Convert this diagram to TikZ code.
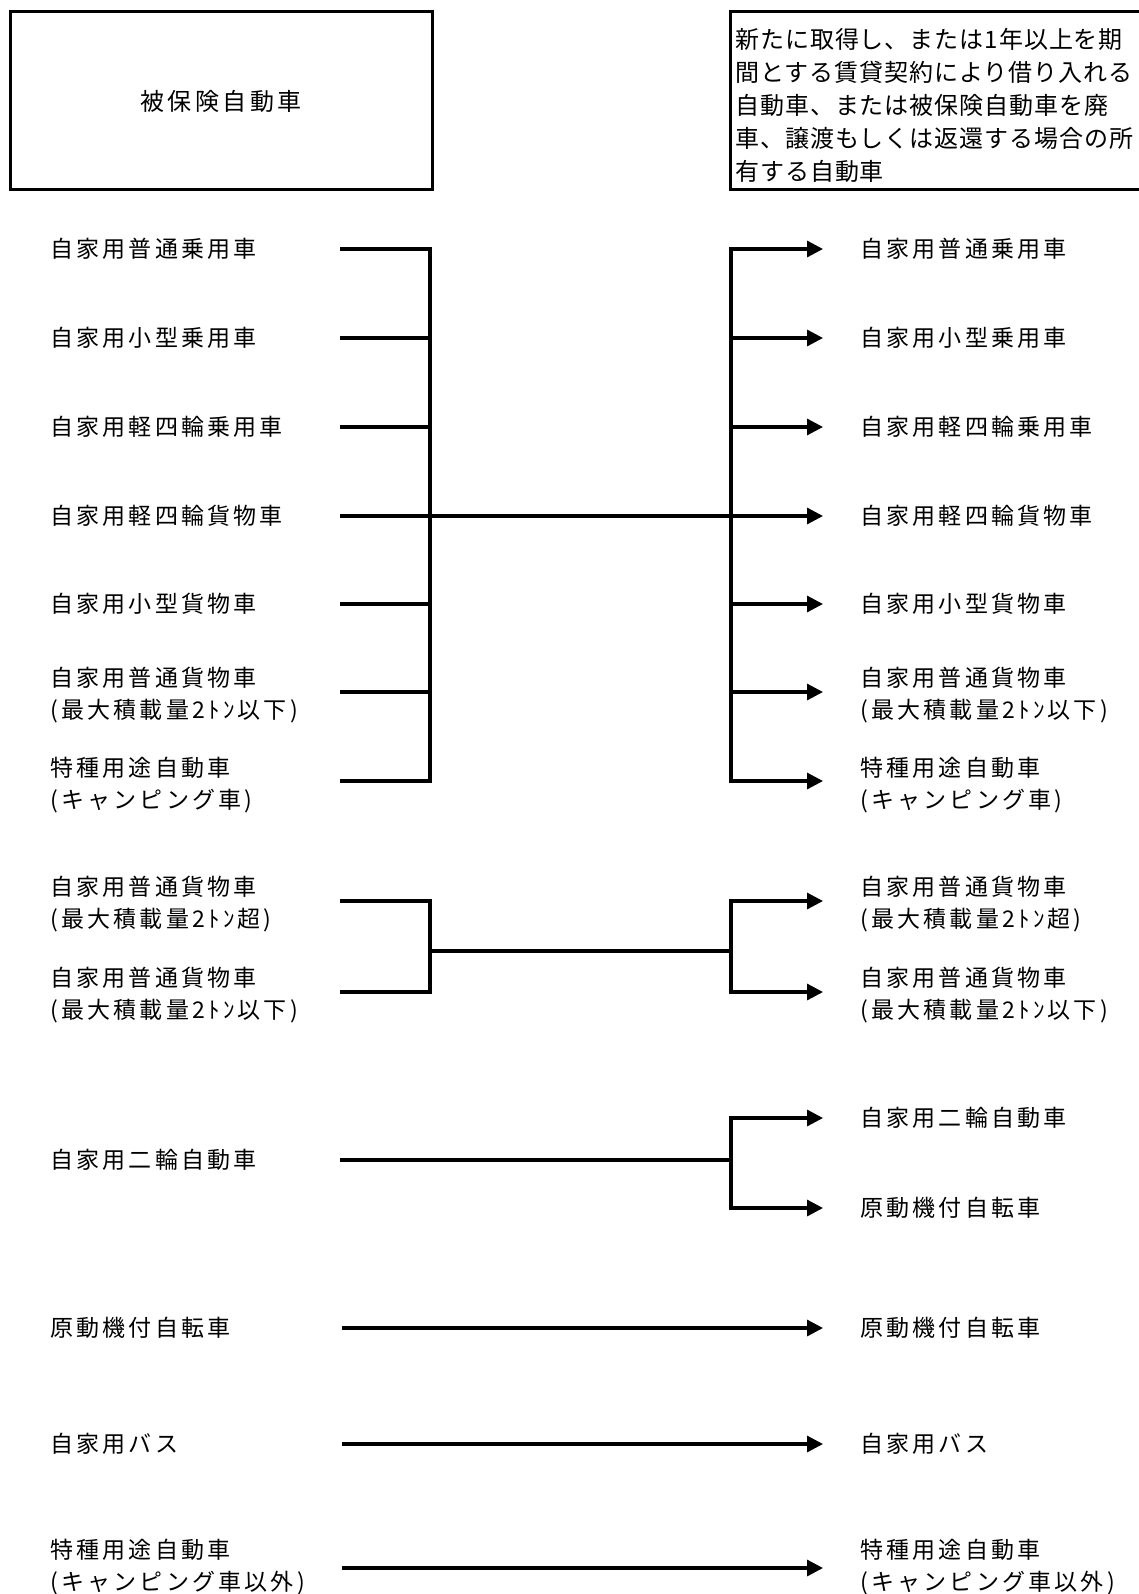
\documentclass[tikz,border=0pt]{standalone}
\usepackage{fontspec}
\usepackage{tikz}
\usetikzlibrary{arrows.meta}
\newfontfamily\jplab[LetterSpace=14]{Noto Sans CJK JP}
\newfontfamily\jpbox[LetterSpace=4]{Noto Sans CJK JP}

\tikzset{
  lab/.style={anchor=west, align=left, inner sep=0pt, font=\fontsize{23}{32}\jplab},
  conn/.style={line width=3.2pt, line cap=rect},
  arr/.style={line width=3.2pt, -{Triangle[length=16pt,width=16pt]}},
  frame/.style={draw, line width=3pt}
}

\begin{document}
\begin{tikzpicture}[x=1pt, y=-1pt]
\useasboundingbox (0,0) rectangle (1139,1594);

% top boxes
\node[frame, minimum width=422pt, minimum height=178pt, font=\fontsize{24}{34}\jplab] (insured) at (221,101) {被保険自動車};
\draw[frame] (730,12) rectangle (1160,190);
\node[anchor=north west, align=left, inner sep=0pt, font=\fontsize{24}{33}\jpbox] (newcar) at (735,28)
  {新たに取得し、または1年以上を期\\間とする賃貸契約により借り入れる\\自動車、または被保険自動車を廃\\車、譲渡もしくは返還する場合の所\\有する自動車};

% columns and rows
\coordinate (L) at (342,0);
\coordinate (J) at (430,0);
\coordinate (K) at (731,0);
\coordinate (T) at (823,0);
\coordinate (y1) at (0,249);
\coordinate (y2) at (0,338);
\coordinate (y3) at (0,427);
\coordinate (y4) at (0,516);
\coordinate (y5) at (0,604);
\coordinate (y6) at (0,692);
\coordinate (y7) at (0,781);
\coordinate (y8) at (0,901);
\coordinate (y9) at (0,992);
\coordinate (ym) at (0,951);
\coordinate (yb) at (0,1160);
\coordinate (yba) at (0,1118);
\coordinate (ybb) at (0,1208);
\coordinate (y11) at (0,1328);
\coordinate (y12) at (0,1444);
\coordinate (y13) at (0,1568);

% left labels
\node[lab] (l1) at (50,249) {自家用普通乗用車};
\node[lab] (l2) at (50,338) {自家用小型乗用車};
\node[lab] (l3) at (50,427) {自家用軽四輪乗用車};
\node[lab] (l4) at (50,516) {自家用軽四輪貨物車};
\node[lab] (l5) at (50,604) {自家用小型貨物車};
\node[lab] (l6) at (50,695) {自家用普通貨物車\\(最大積載量2ﾄﾝ以下)};
\node[lab] (l7) at (50,785) {特種用途自動車\\(キャンピング車)};
\node[lab] (l8) at (50,904) {自家用普通貨物車\\(最大積載量2ﾄﾝ超)};
\node[lab] (l9) at (50,995) {自家用普通貨物車\\(最大積載量2ﾄﾝ以下)};
\node[lab] (l10) at (50,1160) {自家用二輪自動車};
\node[lab] (l11) at (50,1328) {原動機付自転車};
\node[lab] (l12) at (50,1444) {自家用バス};
\node[lab] (l13) at (50,1567) {特種用途自動車\\(キャンピング車以外)};

% right labels
\node[lab] (r1) at (860,249) {自家用普通乗用車};
\node[lab] (r2) at (860,338) {自家用小型乗用車};
\node[lab] (r3) at (860,427) {自家用軽四輪乗用車};
\node[lab] (r4) at (860,516) {自家用軽四輪貨物車};
\node[lab] (r5) at (860,604) {自家用小型貨物車};
\node[lab] (r6) at (860,695) {自家用普通貨物車\\(最大積載量2ﾄﾝ以下)};
\node[lab] (r7) at (860,785) {特種用途自動車\\(キャンピング車)};
\node[lab] (r8) at (860,904) {自家用普通貨物車\\(最大積載量2ﾄﾝ超)};
\node[lab] (r9) at (860,995) {自家用普通貨物車\\(最大積載量2ﾄﾝ以下)};
\node[lab] (r10) at (860,1118) {自家用二輪自動車};
\node[lab] (r11) at (860,1208) {原動機付自転車};
\node[lab] (r12) at (860,1328) {原動機付自転車};
\node[lab] (r13) at (860,1444) {自家用バス};
\node[lab] (r14) at (860,1567) {特種用途自動車\\(キャンピング車以外)};

% first group
\draw[conn] (L |- y1) -- (J |- y1) -- (J |- y7) -- (L |- y7);
\draw[conn] (L |- y2) -- (J |- y2)
            (L |- y3) -- (J |- y3)
            (L |- y4) -- (K |- y4)
            (L |- y5) -- (J |- y5)
            (L |- y6) -- (J |- y6);
\draw[conn] (K |- y1) -- (K |- y7);
\draw[arr] (K |- y1) -- (T |- y1);
\draw[arr] (K |- y2) -- (T |- y2);
\draw[arr] (K |- y3) -- (T |- y3);
\draw[arr] (K |- y4) -- (T |- y4);
\draw[arr] (K |- y5) -- (T |- y5);
\draw[arr] (K |- y6) -- (T |- y6);
\draw[arr] (K |- y7) -- (T |- y7);

% second group
\draw[conn] (L |- y8) -- (J |- y8) -- (J |- y9) -- (L |- y9);
\draw[conn] (J |- ym) -- (K |- ym);
\draw[conn] (K |- y8) -- (K |- y9);
\draw[arr] (K |- y8) -- (T |- y8);
\draw[arr] (K |- y9) -- (T |- y9);

% two-wheelers
\draw[conn] (L |- yb) -- (K |- yb);
\draw[conn] (K |- yba) -- (K |- ybb);
\draw[arr] (K |- yba) -- (T |- yba);
\draw[arr] (K |- ybb) -- (T |- ybb);

% straight ones
\draw[arr] (L |- y11) -- (T |- y11);
\draw[arr] (L |- y12) -- (T |- y12);
\draw[arr] (L |- y13) -- (T |- y13);
\end{tikzpicture}
\end{document}
